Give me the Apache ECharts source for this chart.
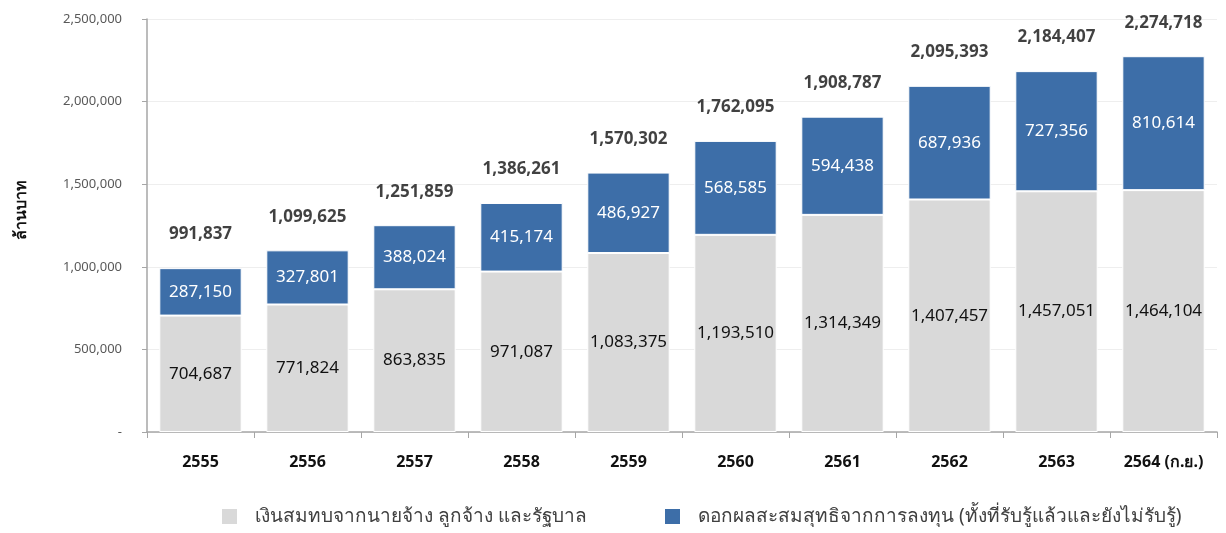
<!DOCTYPE html>
<html><head><meta charset="utf-8">
<script src="https://cdn.jsdelivr.net/npm/echarts@6/dist/echarts.min.js"></script>
<style>html,body{margin:0;padding:0;background:#fff}#c{width:1226px;height:533px}</style>
</head><body><div id="c"></div>
<script>
const categories = ['2555','2556','2557','2558','2559','2560','2561','2562','2563','2564 (ก.ย.)'];
const contributions = [704687,771824,863835,971087,1083375,1193510,1314349,1407457,1457051,1464104];
const returns = [287150,327801,388024,415174,486927,568585,594438,687936,727356,810614];
const totals = [991837,1099625,1251859,1386261,1570302,1762095,1908787,2095393,2184407,2274718];
const seriesNames = ['เงินสมทบจากนายจ้าง ลูกจ้าง และรัฐบาล','ดอกผลสะสมสุทธิจากการลงทุน (ทั้งที่รับรู้แล้วและยังไม่รับรู้)'];

const fmt = v => v === 0 ? '-' : v.toLocaleString('en-US');
const FONT = 'Tahoma, "Noto Sans", "DejaVu Sans", sans-serif';
const legendText = {fontSize:19,color:'#404040',fontFamily:FONT,padding:[0,0,0,12]};
const chart = echarts.init(document.getElementById('c'));
chart.setOption({
  animation:false,
  textStyle:{fontFamily:FONT},
  grid:{left:147,right:9,top:19,bottom:101,containLabel:false,outerBoundsMode:'none'},
  legend:[
    {bottom:2,left:215,itemWidth:17,itemHeight:17,textStyle:legendText,
     data:[{name:seriesNames[0],icon:'rect'}]},
    {bottom:2,left:658,itemWidth:17,itemHeight:17,textStyle:legendText,
     data:[{name:seriesNames[1],icon:'rect'}]}
  ],
  xAxis:{type:'category',data:categories,
    axisLine:{lineStyle:{color:'#a6a6a6',width:1.5}},
    axisTick:{show:true,length:6,lineStyle:{color:'#a6a6a6'}},
    axisLabel:{fontSize:16,fontWeight:'bold',color:'#111',margin:22,fontFamily:FONT}},
  yAxis:{type:'value',min:0,max:2500000,interval:500000,
    name:'ล้านบาท',nameLocation:'middle',nameGap:118,nameRotate:90,
    nameTextStyle:{fontSize:16,fontWeight:'bold',color:'#111',fontFamily:FONT,padding:[0,0,0,32]},
    axisLine:{show:true,lineStyle:{color:'#a6a6a6',width:1.5}},
    axisTick:{show:true,length:5,lineStyle:{color:'#a6a6a6'}},
    splitLine:{lineStyle:{color:'#eeeeee'}},
    axisLabel:{fontSize:13,color:'#595959',margin:25,formatter:fmt}},
  series:[
    {name:seriesNames[0],type:'bar',stack:'s',data:contributions,barCategoryGap:'23%',
     itemStyle:{color:'#d9d9d9',borderColor:'#fff',borderWidth:1},
     label:{show:true,position:'inside',fontSize:17,color:'#111',formatter:p=>fmt(p.value)}},
    {name:seriesNames[1],type:'bar',stack:'s',data:returns,
     itemStyle:{color:'#3d6ea8',borderColor:'#fff',borderWidth:1},
     label:{show:true,position:'inside',fontSize:17,color:'#fff',formatter:p=>fmt(p.value)}},
    {name:'total',type:'scatter',data:totals,symbolSize:2,itemStyle:{color:'rgba(0,0,0,0)'},silent:true,z:10,
     labelLayout:{hideOverlap:false},
     label:{show:true,position:'top',distance:24,fontSize:17,fontWeight:'bold',color:'#111',formatter:p=>fmt(p.value)}}
  ]
});
</script></body></html>
